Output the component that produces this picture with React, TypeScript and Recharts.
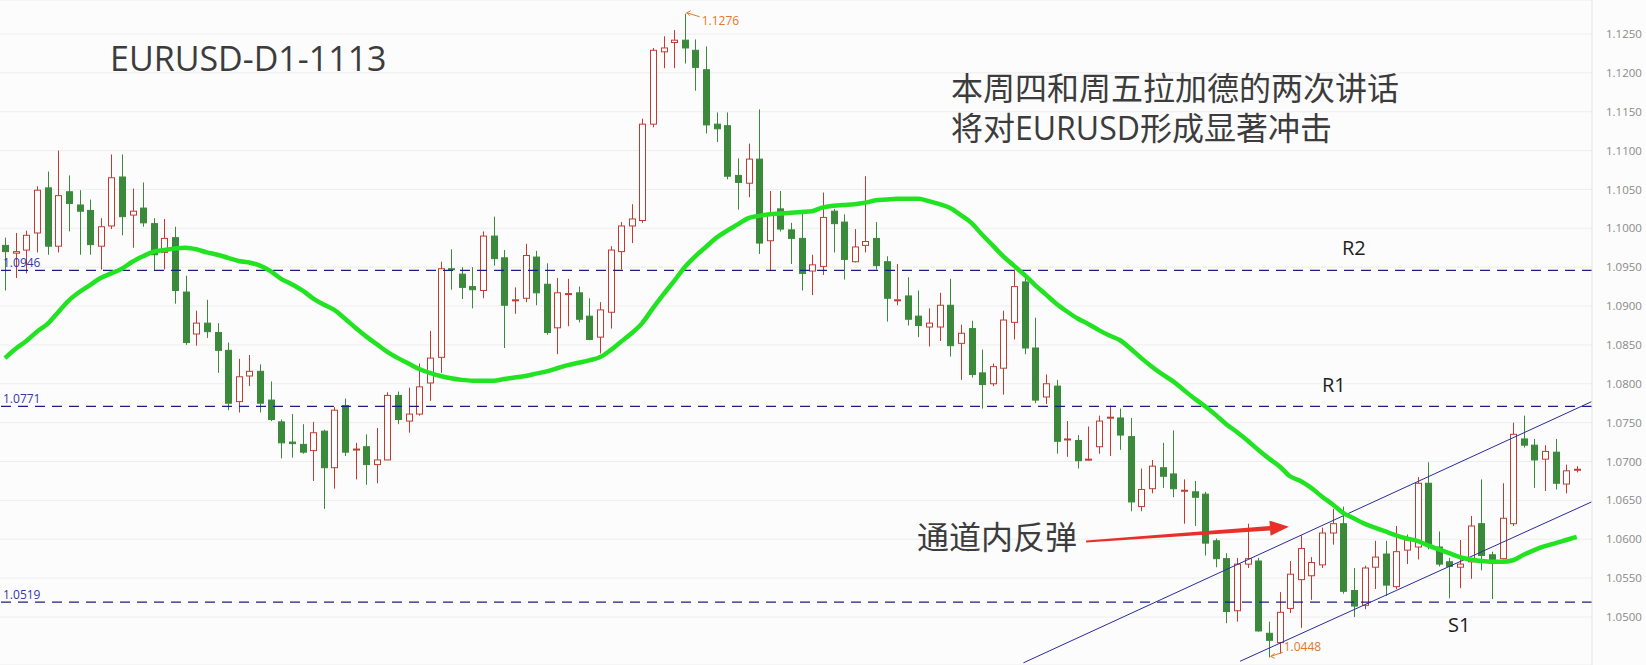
import React from 'react';
import {
  ComposedChart,
  Bar,
  Line,
  XAxis,
  YAxis,
  CartesianGrid,
  ReferenceLine,
  ReferenceDot,
} from 'recharts';

// ---- data ----
const opens = [
  1.0978, 1.0968, 1.0972, 1.0994, 1.1052, 1.0977, 1.1047, 1.1030, 1.1023, 1.0977,
  1.1003, 1.1066, 1.1017, 1.1026, 1.1006, 1.0969, 1.0988, 1.0918, 1.0864, 1.0878,
  1.0866, 1.0843, 1.0777, 1.0810, 1.0816, 1.0779, 1.0751, 1.0725, 1.0722, 1.0714,
  1.0739, 1.0692, 1.0772, 1.0715, 1.0719, 1.0696, 1.0702, 1.0785, 1.0752, 1.0761,
  1.0801, 1.0834, 1.0948, 1.0941, 1.0925, 1.0920, 1.0990, 1.0962, 1.0907, 1.0910,
  1.0963, 1.0928, 1.0872, 1.0915, 1.0917, 1.0887, 1.0860, 1.0892, 1.0970, 1.1003,
  1.1010, 1.1134, 1.1227, 1.1239, 1.1242, 1.1229, 1.1204, 1.1134, 1.1132, 1.1068,
  1.1058, 1.1089, 1.0984, 1.1025, 1.0998, 1.0987, 1.0945, 1.0951, 1.1022, 1.1008,
  1.0957, 1.0978, 1.0987, 1.0957, 1.0907, 1.0913, 1.0887, 1.0873, 1.0873, 1.0901,
  1.0852, 1.0871, 1.0814, 1.0800, 1.0820, 1.0879, 1.0931, 1.0846, 1.0783, 1.0797,
  1.0728, 1.0727, 1.0702, 1.0719, 1.0756, 1.0756, 1.0732, 1.0642, 1.0665, 1.0692,
  1.0684, 1.0662, 1.0661, 1.0658, 1.0598, 1.0575, 1.0508, 1.0568, 1.0572, 1.0479,
  1.0467, 1.0511, 1.0548, 1.0553, 1.0567, 1.0608, 1.0620, 1.0534, 1.0515, 1.0564,
  1.0581, 1.0539, 1.0586, 1.0590, 1.0672, 1.0590, 1.0571, 1.0564, 1.0571, 1.0620,
  1.0580, 1.0575, 1.0620, 1.0729, 1.0721, 1.0703, 1.0712, 1.0671, 1.0689,
];
const highs = [
  1.0988, 1.0994, 1.0997, 1.1054, 1.1073, 1.1100, 1.1068, 1.1049, 1.1037, 1.1013,
  1.1095, 1.1095, 1.1051, 1.1059, 1.1013, 1.1012, 1.1002, 1.0939, 1.0894, 1.0908,
  1.0878, 1.0853, 1.0832, 1.0837, 1.0825, 1.0803, 1.0754, 1.0761, 1.0748, 1.0751,
  1.0741, 1.0770, 1.0781, 1.0724, 1.0735, 1.0743, 1.0789, 1.0790, 1.0795, 1.0826,
  1.0868, 1.0957, 1.0973, 1.0950, 1.0950, 1.0996, 1.1015, 1.0972, 1.0924, 1.0980,
  1.0971, 1.0955, 1.0936, 1.0935, 1.0925, 1.0910, 1.0905, 1.0977, 1.1008, 1.1031,
  1.1141, 1.1232, 1.1247, 1.1255, 1.1276, 1.1243, 1.1234, 1.1149, 1.1149, 1.1090,
  1.1109, 1.1153, 1.1048, 1.1048, 1.1007, 1.1019, 1.0966, 1.1046, 1.1025, 1.1018,
  1.0999, 1.1067, 1.1008, 1.0964, 1.0954, 1.0937, 1.0920, 1.0897, 1.0917, 1.0935,
  1.0876, 1.0881, 1.0844, 1.0826, 1.0894, 1.0947, 1.0939, 1.0885, 1.0812, 1.0805,
  1.0752, 1.0734, 1.0745, 1.0759, 1.0772, 1.0768, 1.0756, 1.0691, 1.0702, 1.0724,
  1.0740, 1.0677, 1.0675, 1.0661, 1.0601, 1.0582, 1.0576, 1.0620, 1.0576, 1.0494,
  1.0532, 1.0572, 1.0605, 1.0577, 1.0615, 1.0639, 1.0642, 1.0563, 1.0566, 1.0598,
  1.0598, 1.0617, 1.0606, 1.0680, 1.0699, 1.0610, 1.0576, 1.0599, 1.0630, 1.0677,
  1.0584, 1.0672, 1.0750, 1.0759, 1.0729, 1.0721, 1.0729, 1.0696, 1.0694,
];
const lows = [
  1.0920, 1.0936, 1.0942, 1.0969, 1.0966, 1.0969, 1.0996, 1.0966, 1.0966, 1.0947,
  1.0999, 1.0991, 1.0975, 1.1002, 1.0945, 1.0947, 1.0903, 1.0850, 1.0849, 1.0859,
  1.0814, 1.0766, 1.0763, 1.0797, 1.0763, 1.0752, 1.0704, 1.0705, 1.0710, 1.0675,
  1.0639, 1.0665, 1.0707, 1.0677, 1.0670, 1.0672, 1.0702, 1.0748, 1.0737, 1.0759,
  1.0778, 1.0814, 1.0921, 1.0909, 1.0897, 1.0910, 1.0952, 1.0846, 1.0890, 1.0905,
  1.0901, 1.0863, 1.0838, 1.0874, 1.0879, 1.0856, 1.0839, 1.0871, 1.0947, 1.0981,
  1.1007, 1.1130, 1.1206, 1.1206, 1.1212, 1.1177, 1.1122, 1.1111, 1.1063, 1.1024,
  1.1040, 1.0967, 1.0945, 1.0996, 1.0954, 1.0920, 1.0914, 1.0940, 1.0969, 1.0934,
  1.0956, 1.0969, 1.0947, 1.0880, 1.0901, 1.0875, 1.0860, 1.0848, 1.0855, 1.0835,
  1.0805, 1.0808, 1.0768, 1.0797, 1.0786, 1.0857, 1.0838, 1.0775, 1.0774, 1.0710,
  1.0706, 1.0691, 1.0701, 1.0710, 1.0707, 1.0715, 1.0636, 1.0636, 1.0659, 1.0666,
  1.0654, 1.0620, 1.0617, 1.0579, 1.0564, 1.0492, 1.0494, 1.0563, 1.0481, 1.0448,
  1.0453, 1.0505, 1.0486, 1.0522, 1.0563, 1.0593, 1.0530, 1.0500, 1.0510, 1.0536,
  1.0527, 1.0536, 1.0568, 1.0574, 1.0587, 1.0565, 1.0524, 1.0537, 1.0549, 1.0560,
  1.0523, 1.0574, 1.0617, 1.0718, 1.0666, 1.0662, 1.0664, 1.0659, 1.0686,
];
const closes = [
  1.0970, 1.0970, 1.0991, 1.1049, 1.0977, 1.1042, 1.1032, 1.1022, 1.0979, 1.1002,
  1.1065, 1.1015, 1.1022, 1.1007, 1.0966, 1.0987, 1.0920, 1.0853, 1.0878, 1.0867,
  1.0843, 1.0775, 1.0809, 1.0816, 1.0775, 1.0754, 1.0724, 1.0723, 1.0712, 1.0737,
  1.0692, 1.0766, 1.0712, 1.0716, 1.0696, 1.0702, 1.0785, 1.0754, 1.0761, 1.0796,
  1.0833, 1.0948, 1.0947, 1.0924, 1.0921, 1.0990, 1.0961, 1.0901, 1.0908, 1.0965,
  1.0917, 1.0866, 1.0917, 1.0916, 1.0883, 1.0857, 1.0895, 1.0972, 1.1003, 1.1012,
  1.1134, 1.1229, 1.1232, 1.1242, 1.1232, 1.1207, 1.1133, 1.1128, 1.1067, 1.1059,
  1.1089, 1.0981, 1.1018, 1.0999, 1.0987, 1.0942, 1.0953, 1.1014, 1.1006, 1.0960,
  1.0976, 1.0983, 1.0952, 1.0910, 1.0908, 1.0883, 1.0875, 1.0878, 1.0901, 1.0849,
  1.0865, 1.0812, 1.0799, 1.0822, 1.0882, 1.0925, 1.0846, 1.0779, 1.0800, 1.0726,
  1.0729, 1.0701, 1.0703, 1.0752, 1.0757, 1.0734, 1.0648, 1.0664, 1.0694, 1.0681,
  1.0665, 1.0663, 1.0654, 1.0595, 1.0575, 1.0507, 1.0568, 1.0575, 1.0482, 1.0470,
  1.0506, 1.0555, 1.0588, 1.0570, 1.0608, 1.0620, 1.0533, 1.0514, 1.0563, 1.0577,
  1.0541, 1.0584, 1.0599, 1.0672, 1.0593, 1.0568, 1.0565, 1.0568, 1.0617, 1.0579,
  1.0574, 1.0627, 1.0735, 1.0721, 1.0702, 1.0713, 1.0672, 1.0688, 1.0690,
];
const maValues = [
  1.0833, 1.0845, 1.0855, 1.0867, 1.0877, 1.0892, 1.0907, 1.0918, 1.0927, 1.0936,
  1.0942, 1.0948, 1.0957, 1.0964, 1.0970, 1.0972, 1.0974, 1.0975, 1.0973, 1.0969,
  1.0966, 1.0962, 1.0958, 1.0956, 1.0952, 1.0945, 1.0935, 1.0928, 1.0920, 1.0910,
  1.0902, 1.0895, 1.0884, 1.0872, 1.0861, 1.0851, 1.0841, 1.0833, 1.0826, 1.0819,
  1.0814, 1.0810, 1.0807, 1.0805, 1.0804, 1.0804, 1.0804, 1.0806, 1.0808, 1.0810,
  1.0813, 1.0816, 1.0820, 1.0824, 1.0827, 1.0830, 1.0834, 1.0843, 1.0854, 1.0865,
  1.0878, 1.0897, 1.0915, 1.0932, 1.0950, 1.0964, 1.0976, 1.0988, 1.0997, 1.1005,
  1.1013, 1.1016, 1.1018, 1.1019, 1.1020, 1.1021, 1.1022, 1.1027, 1.1029, 1.1030,
  1.1031, 1.1033, 1.1036, 1.1037, 1.1038, 1.1038, 1.1038, 1.1035, 1.1031, 1.1026,
  1.1017, 1.1007, 1.0992, 1.0978, 1.0964, 1.0952, 1.0940, 1.0927, 1.0915, 1.0903,
  1.0893, 1.0884, 1.0877, 1.0869, 1.0862, 1.0856, 1.0845, 1.0833, 1.0822, 1.0812,
  1.0803, 1.0792, 1.0781, 1.0771, 1.0760, 1.0748, 1.0738, 1.0727, 1.0715, 1.0704,
  1.0694, 1.0681, 1.0675, 1.0666, 1.0655, 1.0645, 1.0634, 1.0627, 1.0620, 1.0615,
  1.0610, 1.0605, 1.0601, 1.0598, 1.0592, 1.0587, 1.0582, 1.0577, 1.0574, 1.0572,
  1.0571, 1.0571, 1.0573, 1.0580, 1.0586, 1.0591, 1.0595, 1.0599, 1.0603,
];
const priceTicks = [
  1.05, 1.055, 1.06, 1.065, 1.07, 1.075, 1.08, 1.085, 1.09, 1.095, 1.1, 1.105,
  1.11, 1.115, 1.12, 1.125,
];
const levelValues = [1.0946, 1.0771, 1.0519];
const levelLabels = ['1.0946', '1.0771', '1.0519'];
const upperChannel = [
  { x: 95.9, y: 1.0441 },
  { x: 149.4, y: 1.0777 },
];
const lowerChannel = [
  { x: 116.3, y: 1.0443 },
  { x: 149.4, y: 1.0648 },
];
const arrowSegment = [
  { x: 101.8, y: 1.0597 },
  { x: 120.9, y: 1.0616 },
];
const highMark = { index: 64, value: 1.1276, label: '1.1276' };
const lowMark = { index: 119, value: 1.0448, label: '1.0448' };

const data = opens.map((o, i) => ({
  i,
  open: o,
  high: highs[i],
  low: lows[i],
  close: closes[i],
  range: [lows[i], highs[i]],
  ma: maValues[i],
}));

// ---- styles ----
const RED = '#c23b30';
const GREEN = '#3b8a3b';
const MA_COLOR = '#22e322';
const LEVEL_COLOR = '#1c1c86';
const CHANNEL_COLOR = '#2a2a9c';
const ORANGE = '#e0782e';

const Candle = (props: any) => {
  const { x, y, width, height, payload } = props;
  if (!payload || height == null) return null;
  const { open, close, high, low } = payload;
  const cx = Math.round(x + width / 2) + 0.5;
  const scale = height / (high - low);
  const yOf = (v: number) => y + (high - v) * scale;
  const bull = close > open;
  const color = bull ? RED : GREEN;
  const top = yOf(Math.max(open, close));
  const bottom = yOf(Math.min(open, close));
  const bh = Math.max(bottom - top, 1);
  return (
    <g>
      <line x1={cx} x2={cx} y1={y} y2={y + height} stroke={color} strokeWidth={1} />
      <rect
        x={cx - 3}
        y={top}
        width={6}
        height={bh}
        fill={bull ? '#ffffff' : GREEN}
        stroke={color}
        strokeWidth={1}
      />
    </g>
  );
};

const ArrowShape = (p: any) => {
  const { x1, y1, x2, y2 } = p;
  if ([x1, y1, x2, y2].some((v) => v == null || isNaN(v))) return null;
  const dx = x2 - x1;
  const dy = y2 - y1;
  const len = Math.hypot(dx, dy);
  const ux = dx / len;
  const uy = dy / len;
  const nx = -uy;
  const ny = ux;
  const headLen = 19;
  const headW = 7.5;
  const bx = x2 - ux * headLen;
  const by = y2 - uy * headLen;
  const w0 = 1;
  const w1 = 2.3;
  const pts = [
    [x1 + nx * w0, y1 + ny * w0],
    [bx + nx * w1, by + ny * w1],
    [bx + nx * headW, by + ny * headW],
    [x2, y2],
    [bx - nx * headW, by - ny * headW],
    [bx - nx * w1, by - ny * w1],
    [x1 - nx * w0, y1 - ny * w0],
  ];
  return <polygon points={pts.map((q) => q.join(',')).join(' ')} fill="#e8302a" />;
};

const HighMarkShape = (p: any) => {
  const { cx, cy } = p;
  if (cx == null || cy == null) return null;
  return (
    <g>
      <line x1={cx + 2} y1={cy - 1} x2={cx + 15} y2={cy + 3} stroke={ORANGE} strokeWidth={1} />
      <polyline
        points={`${cx + 6},${cy - 3} ${cx + 2},${cy - 1} ${cx + 5},${cy + 2}`}
        fill="none"
        stroke={ORANGE}
        strokeWidth={1}
      />
      <text x={cx + 17} y={cy + 11} fill={ORANGE} fontSize={12} fontFamily="'Open Sans', sans-serif">
        {highMark.label}
      </text>
    </g>
  );
};

const LowMarkShape = (p: any) => {
  const { cx, cy } = p;
  if (cx == null || cy == null) return null;
  return (
    <g>
      <line x1={cx + 2} y1={cy - 1} x2={cx + 14} y2={cy - 5} stroke={ORANGE} strokeWidth={1} />
      <polyline
        points={`${cx + 6},${cy - 4} ${cx + 2},${cy - 1} ${cx + 6},${cy + 1}`}
        fill="none"
        stroke={ORANGE}
        strokeWidth={1}
      />
      <text x={cx + 15} y={cy - 6} fill={ORANGE} fontSize={12} fontFamily="'Open Sans', sans-serif">
        {lowMark.label}
      </text>
    </g>
  );
};

const FONT = "'Open Sans', 'Noto Sans CJK SC', sans-serif";

export default function App() {
  return (
    <div style={{ position: 'relative', width: 1646, height: 665, background: '#fcfcfc', overflow: 'hidden' }}>
      <style>{'body{margin:0;}'}</style>
      <ComposedChart
        width={1646}
        height={665}
        data={data}
        margin={{ top: 0, right: 0, bottom: 0, left: 0 }}
      >
        <CartesianGrid horizontal vertical={false} stroke="#eeeeee" />
        <XAxis
          type="number"
          dataKey="i"
          domain={[-0.471, 149.44]}
          allowDataOverflow
          hide
        />
        <YAxis
          orientation="right"
          width={54}
          domain={[1.04382, 1.12937]}
          allowDataOverflow
          ticks={priceTicks}
          interval={0}
          tickLine={false}
          axisLine={{ stroke: '#e4e4e4' }}
          tick={{ fill: '#8a8a8a', fontSize: 11.5, fontFamily: "'Open Sans', sans-serif", dx: 6 }}
          tickFormatter={(v: number) => v.toFixed(4)}
        />
        {levelValues.map((v, k) => (
          <ReferenceLine
            key={'lvl' + k}
            y={v}
            stroke={LEVEL_COLOR}
            strokeWidth={1.2}
            strokeDasharray="10 7"
            ifOverflow="visible"
            label={{
              value: levelLabels[k],
              position: 'insideBottomLeft',
              offset: 3,
              fill: '#3636a8',
              fontSize: 12,
              fontFamily: "'Open Sans', sans-serif",
            }}
          />
        ))}
        <ReferenceLine segment={upperChannel} stroke={CHANNEL_COLOR} strokeWidth={1} ifOverflow="visible" />
        <ReferenceLine segment={lowerChannel} stroke={CHANNEL_COLOR} strokeWidth={1} ifOverflow="visible" />
        <Bar
          dataKey="range"
          barSize={7}
          isAnimationActive={false}
          shape={(p: any) => <Candle {...p} />}
        />
        <Line
          dataKey="ma"
          type="monotone"
          stroke={MA_COLOR}
          strokeWidth={4.5}
          dot={false}
          activeDot={false}
          isAnimationActive={false}
        />
        <ReferenceLine
          segment={arrowSegment}
          ifOverflow="visible"
          shape={(p: any) => <ArrowShape {...p} />}
        />
        <ReferenceDot
          x={highMark.index}
          y={highMark.value}
          r={0}
          ifOverflow="visible"
          shape={(p: any) => <HighMarkShape {...p} />}
        />
        <ReferenceDot
          x={lowMark.index}
          y={lowMark.value}
          r={0}
          ifOverflow="visible"
          shape={(p: any) => <LowMarkShape {...p} />}
        />
      </ComposedChart>
      <svg
        width={1646}
        height={665}
        style={{ position: 'absolute', left: 0, top: 0, pointerEvents: 'none' }}
      >
        <text x={110} y={71} fontSize={34} fill="#3c3c3c" fontFamily={FONT}>
          EURUSD-D1-1113
        </text>
        <text x={951} y={100} fontSize={32} fill="#3c3c3c" fontFamily={FONT}>
          本周四和周五拉加德的两次讲话
        </text>
        <text x={951} y={140} fontSize={32} fill="#3c3c3c" fontFamily={FONT}>
          将对EURUSD形成显著冲击
        </text>
        <text x={917} y={549} fontSize={32} fill="#3c3c3c" fontFamily={FONT}>
          通道内反弹
        </text>
        <text x={1342} y={255} fontSize={20} fill="#1e1e1e" fontFamily={FONT}>
          R2
        </text>
        <text x={1322} y={392} fontSize={20} fill="#1e1e1e" fontFamily={FONT}>
          R1
        </text>
        <text x={1448} y={632} fontSize={20} fill="#1e1e1e" fontFamily={FONT}>
          S1
        </text>
      </svg>
    </div>
  );
}
